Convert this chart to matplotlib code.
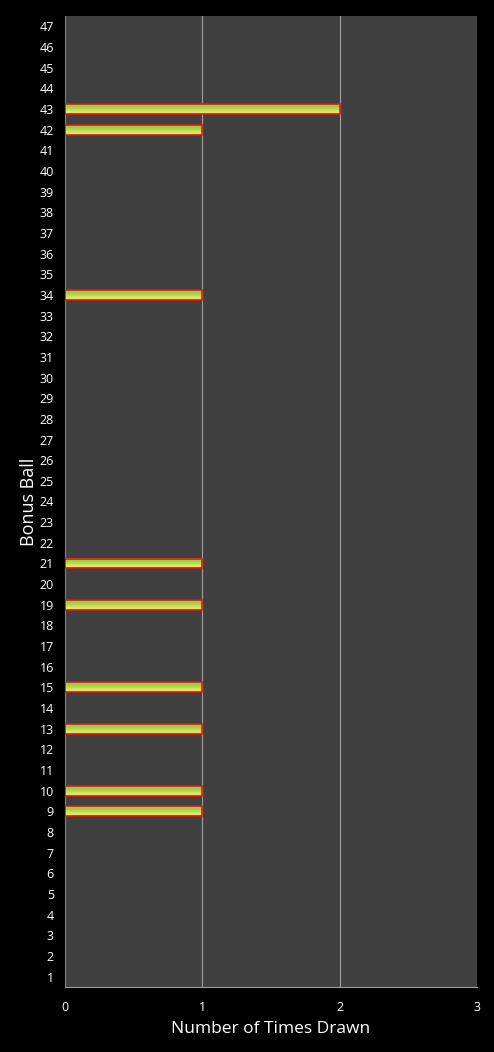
import matplotlib
matplotlib.use("Agg")
import matplotlib.pyplot as plt
import numpy as np
from matplotlib.colors import LinearSegmentedColormap
from matplotlib.patches import Rectangle

# bonus ball numbers and how often each was drawn
balls = list(range(1, 48))
drawn = {9: 1, 10: 1, 13: 1, 15: 1, 19: 1, 21: 1, 34: 1, 42: 1, 43: 2}
counts = [drawn.get(b, 0) for b in balls]

plt.rcParams['font.family'] = ['Open Sans', 'DejaVu Sans']

fig = plt.figure(figsize=(4.94, 10.52), dpi=100, facecolor='black')
ax = fig.add_axes([0.1316, 0.0618, 0.834, 0.923])
ax.set_facecolor('#404040')

bar_h = 0.48
grad = LinearSegmentedColormap.from_list('g', ['#a8d448', '#98cc40', '#b8dc50', '#e0e468', '#e8e070'])
img = np.linspace(0, 1, 64).reshape(-1, 1)

for b, c in zip(balls, counts):
    if c == 0:
        continue
    ax.imshow(img, cmap=grad, aspect='auto', extent=(0, c, b - bar_h / 2, b + bar_h / 2),
              zorder=3, interpolation='bilinear')
    ax.add_patch(Rectangle((0, b - bar_h / 2), c, bar_h, fill=False,
                           edgecolor='#d81818', linewidth=1.2, zorder=4))

ax.set_xlim(0, 3)
ax.set_ylim(0.5, 47.5)
ax.set_xticks([0, 1, 2, 3])
ax.set_yticks(balls)
ax.grid(axis='x', color='#a0a0a0', linewidth=0.8, zorder=1)
ax.set_axisbelow(True)
ax.tick_params(colors='white', length=0, labelsize=9)
ax.tick_params(axis='x', pad=10)
ax.tick_params(axis='y', pad=8)
for s in ['top', 'right']:
    ax.spines[s].set_visible(False)
ax.spines['bottom'].set_color('#a0a0a0')
ax.spines['left'].set_color('#808080')

ax.set_xlabel('Number of Times Drawn', color='white', fontsize=12.5, labelpad=5)
ax.set_ylabel('Bonus Ball', color='white', fontsize=13, labelpad=1)

fig.savefig('out.png', dpi=100, facecolor='black')
